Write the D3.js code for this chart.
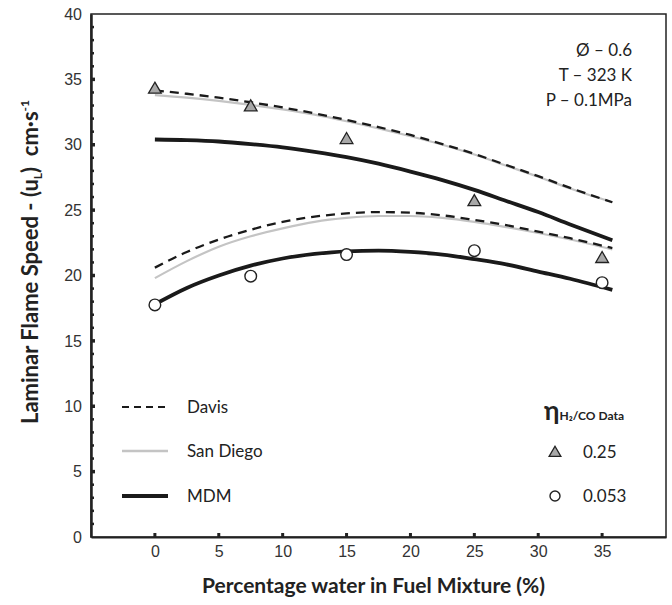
<!DOCTYPE html>
<html><head><meta charset="utf-8">
<script src="https://cdn.jsdelivr.net/npm/d3@7/dist/d3.min.js"></script>
<style>body{margin:0;background:#fff}</style>
</head><body>
<svg id="c" width="672" height="605"></svg>
<script>
// ---- data ----
const xTicks = [0, 5, 10, 15, 20, 25, 30, 35];
const yTicks = [0, 5, 10, 15, 20, 25, 30, 35, 40];
const curveX = [0, 2.5, 5, 7.5, 10, 12.5, 15, 17.5, 20, 22.5, 25, 27.5, 30, 32.5, 35.8];
// eta = 0.25 group (upper)
const davisHigh    = [34.15, 33.9, 33.6, 33.25, 32.85, 32.4, 31.9, 31.35, 30.75, 30.05, 29.3, 28.45, 27.6, 26.7, 25.6];
const sanDiegoHigh = [33.8, 33.6, 33.35, 33.05, 32.7, 32.3, 31.8, 31.25, 30.65, 30.0, 29.25, 28.4, 27.55, 26.65, 25.6];
const mdmHigh      = [30.4, 30.35, 30.25, 30.05, 29.8, 29.45, 29.05, 28.55, 27.95, 27.3, 26.55, 25.7, 24.85, 23.9, 22.7];
// eta = 0.053 group (lower)
const davisLow     = [20.6, 21.8, 22.75, 23.5, 24.1, 24.5, 24.75, 24.85, 24.8, 24.6, 24.25, 23.85, 23.35, 22.85, 22.1];
const sanDiegoLow  = [19.8, 21.1, 22.2, 23.0, 23.6, 24.1, 24.4, 24.55, 24.55, 24.4, 24.1, 23.7, 23.25, 22.75, 22.0];
const mdmLow       = [17.8, 19.05, 20.0, 20.75, 21.3, 21.65, 21.85, 21.9, 21.8, 21.6, 21.25, 20.85, 20.3, 19.75, 18.9];
// measured data
const dataX     = [0, 7.5, 15, 25, 35];
const triangles = [34.3, 32.95, 30.45, 25.7, 21.35];
const circles   = [17.75, 19.95, 21.6, 21.9, 19.45];
const annot = ["Ø – 0.6", "T – 323 K", "P – 0.1MPa"];

// ---- layout ----
const svg = d3.select("#c");
const L = 91, R = 666, T = 14, B = 537;
const x = d3.scaleLinear().domain([-5, 40]).range([L, R]);
const y = d3.scaleLinear().domain([0, 40]).range([B, T]);
const tickFont = "'Liberation Sans', Arial, sans-serif";
const cal = "Lato, 'Open Sans', sans-serif";

// frame
svg.append("rect").attr("x", L).attr("y", T).attr("width", R - L).attr("height", B - T)
  .attr("fill", "none").attr("stroke", "#222").attr("stroke-width", 1.5);

// y axis (ticks inside)
const yAx = svg.append("g").attr("transform", `translate(${L},0)`)
  .call(d3.axisLeft(y).tickValues(yTicks).tickSize(0).tickPadding(9));
yAx.select(".domain").attr("stroke", "#222").attr("stroke-width", 2.5);
yAx.selectAll("text").attr("font-family", tickFont).attr("font-size", 16).attr("fill", "#333");
const minor = d3.range(1, 40);
svg.append("g").selectAll("rect").data(minor).join("rect")
  .attr("x", L).attr("y", d => y(d) - (d % 5 === 0 ? 1.75 : 1.25))
  .attr("width", d => d % 5 === 0 ? 4 : 3).attr("height", d => d % 5 === 0 ? 3.5 : 2.5)
  .attr("fill", "#222");

// x axis (ticks inside)
const xAx = svg.append("g").attr("transform", `translate(0,${B})`)
  .call(d3.axisBottom(x).tickValues(xTicks).tickSize(0).tickPadding(9));
xAx.select(".domain").attr("stroke", "#222").attr("stroke-width", 2);
xAx.selectAll("text").attr("font-family", tickFont).attr("font-size", 16).attr("fill", "#333");
svg.append("g").selectAll("rect").data(xTicks).join("rect")
  .attr("x", d => x(d) - 1.5).attr("y", B - 4).attr("width", 3).attr("height", 4).attr("fill", "#222");

// curves
const line = d3.line().x(d => x(d[0])).y(d => y(d[1])).curve(d3.curveMonotoneX);
const series = [
  {v: sanDiegoHigh, stroke: "#c4c4c4", w: 2.2, dash: null},
  {v: sanDiegoLow, stroke: "#c4c4c4", w: 2.2, dash: null},
  {v: davisHigh, stroke: "#1a1a1a", w: 2.3, dash: "9,6"},
  {v: davisLow, stroke: "#1a1a1a", w: 2.3, dash: "9,6"},
  {v: mdmHigh, stroke: "#1a1a1a", w: 3.8, dash: null},
  {v: mdmLow, stroke: "#1a1a1a", w: 3.8, dash: null}
];
series.forEach(s => {
  svg.append("path").datum(curveX.map((cx, i) => [cx, s.v[i]]))
    .attr("d", line).attr("fill", "none").attr("stroke", s.stroke)
    .attr("stroke-width", s.w).attr("stroke-dasharray", s.dash);
});

// markers
const tri = d3.symbol().type(d3.symbolTriangle).size(70);
svg.append("g").selectAll("path").data(dataX.map((d, i) => [d, triangles[i]])).join("path")
  .attr("d", tri).attr("transform", d => `translate(${x(d[0])},${y(d[1]) + 1})`)
  .attr("fill", "#a8a8a8").attr("stroke", "#222").attr("stroke-width", 1.3);
svg.append("g").selectAll("circle").data(dataX.map((d, i) => [d, circles[i]])).join("circle")
  .attr("cx", d => x(d[0])).attr("cy", d => y(d[1])).attr("r", 5.8)
  .attr("fill", "#fff").attr("stroke", "#222").attr("stroke-width", 1.4);

// annotations top right
svg.append("g").selectAll("text").data(annot).join("text")
  .attr("x", 632).attr("y", (d, i) => 56 + i * 25).attr("text-anchor", "end")
  .attr("font-family", cal).attr("font-size", 17).attr("fill", "#222").text(d => d);

// left legend
const leg = [
  {name: "Davis", stroke: "#1a1a1a", w: 2, dash: "7,5", y: 407},
  {name: "San Diego", stroke: "#c4c4c4", w: 2.5, dash: null, y: 451},
  {name: "MDM", stroke: "#1a1a1a", w: 4, dash: null, y: 496}
];
leg.forEach(l => {
  svg.append("line").attr("x1", 122).attr("x2", 168).attr("y1", l.y).attr("y2", l.y)
    .attr("stroke", l.stroke).attr("stroke-width", l.w).attr("stroke-dasharray", l.dash);
  svg.append("text").attr("x", 187).attr("y", l.y + 6).attr("font-family", cal)
    .attr("font-size", 17).attr("fill", "#222").text(l.name);
});

// right legend
const eta = svg.append("text").attr("x", 544).attr("y", 420).attr("font-family", cal).attr("fill", "#222");
eta.append("tspan").attr("font-size", 26).attr("font-weight", "bold").text("η");
eta.append("tspan").attr("font-size", 12).attr("font-weight", "bold").attr("dy", 0).text("H₂/CO Data");
svg.append("path").attr("d", d3.symbol().type(d3.symbolTriangle).size(60))
  .attr("transform", "translate(555,453)").attr("fill", "#a8a8a8").attr("stroke", "#222").attr("stroke-width", 1.3);
svg.append("circle").attr("cx", 555).attr("cy", 496).attr("r", 5).attr("fill", "#fff")
  .attr("stroke", "#222").attr("stroke-width", 1.4);
svg.append("text").attr("x", 583).attr("y", 458).attr("font-family", cal).attr("font-size", 17).attr("fill", "#222").text("0.25");
svg.append("text").attr("x", 583).attr("y", 502).attr("font-family", cal).attr("font-size", 17).attr("fill", "#222").text("0.053");

// axis titles
svg.append("text").attr("x", (L + R) / 2 - 5).attr("y", 593).attr("text-anchor", "middle")
  .attr("font-family", cal).attr("font-weight", "bold").attr("font-size", 21).attr("fill", "#222")
  .text("Percentage water in Fuel Mixture (%)");
const yt = svg.append("text").attr("transform", `translate(38,262) rotate(-90)`)
  .attr("text-anchor", "middle").attr("font-family", cal).attr("font-weight", "bold")
  .attr("font-size", 22).attr("fill", "#222");
yt.append("tspan").text("Laminar Flame Speed - (u");
yt.append("tspan").attr("font-size", 12).attr("dy", 4).text("L");
yt.append("tspan").attr("dy", -4).text(")\u00a0\u00a0cm·s");
yt.append("tspan").attr("font-size", 12).attr("dy", -9).text("-1");
</script>
</body></html>
